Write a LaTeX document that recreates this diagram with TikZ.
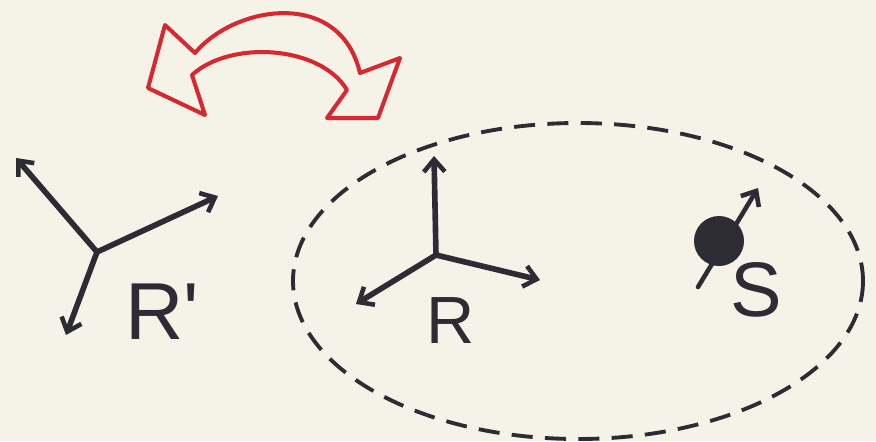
\documentclass[tikz,border=0pt]{standalone}
\usepackage{fontspec}
\setsansfont{Liberation Sans}
\usetikzlibrary{arrows.meta, positioning, calc}
\definecolor{paper}{RGB}{245,243,232}
\definecolor{ink}{RGB}{45,43,52}
\definecolor{marker}{RGB}{214,40,46}

\begin{document}
\begin{tikzpicture}[
  x=0.02cm, y=-0.02cm,
  axis/.style={-{Straight Barb[length=7pt, width=12pt, line width=2.6pt]}, ink, line width=3.2pt, line cap=round},
  lbl/.style={font=\sffamily\fontsize{46}{46}\selectfont, text=ink, inner sep=0pt}
]
  \def\xA{97}  \def\yA{252}
  \def\xB{436} \def\yB{255}

  %--- paper ---
  \fill[paper] (0,0) rectangle (876,441);
  \useasboundingbox (0,0) rectangle (876,441);

  %--- frame R' ---
  \coordinate (Rpo) at (\xA,\yA);
  \coordinate (Rpx) at (218,196);
  \coordinate (Rpy) at (16,158);
  \coordinate (Rpz) at (66,335);
  \draw[axis] (Rpo) -- (Rpx);
  \draw[axis] (Rpo) -- (Rpy);
  \draw[axis] (Rpo) -- (Rpz);
  \node[lbl] (labRp) at (162,312) {R\textquotesingle};

  %--- frame R ---
  \coordinate (Ro) at (\xB,\yB);
  \coordinate (Rx) at (540,280);
  \coordinate (Ry) at (434,156);
  \coordinate (Rz) at (356,304);
  \draw[axis] (Ro) -- (Rx);
  \draw[axis] (Ro) -- (Ry);
  \draw[axis] (Ro) -- (Rz);
  \node[lbl, font=\sffamily\fontsize{38}{38}\selectfont] (labR) at (451,321) {R};

  %--- region round R and S ---
  \draw[ink, dash pattern=on 12pt off 7pt, line width=2.2pt]
    (578,281) ellipse [x radius=285, y radius=158];

  %--- spin S ---
  \coordinate (Sb) at (698,287);
  \coordinate (St) at (758,188);
  \draw[axis, line width=2.6pt] (Sb) -- (St);
  \fill[ink] (719,241) circle [radius=25];
  \node[lbl, font=\sffamily\fontsize{44}{44}\selectfont] (labS) at (756,290) {S};

  %--- swap arrow ---
  \draw[marker, line width=2.3pt, line join=round, fill=paper]
    (195,53) .. controls (235,5) and (340,-12) .. (360,73)
    -- (400,58) -- (378,118) -- (327,118) -- (347,90)
    .. controls (320,45) and (230,40) .. (192,75)
    -- (205,115) -- (148,88) -- (165,25) -- cycle;
\end{tikzpicture}
\end{document}
